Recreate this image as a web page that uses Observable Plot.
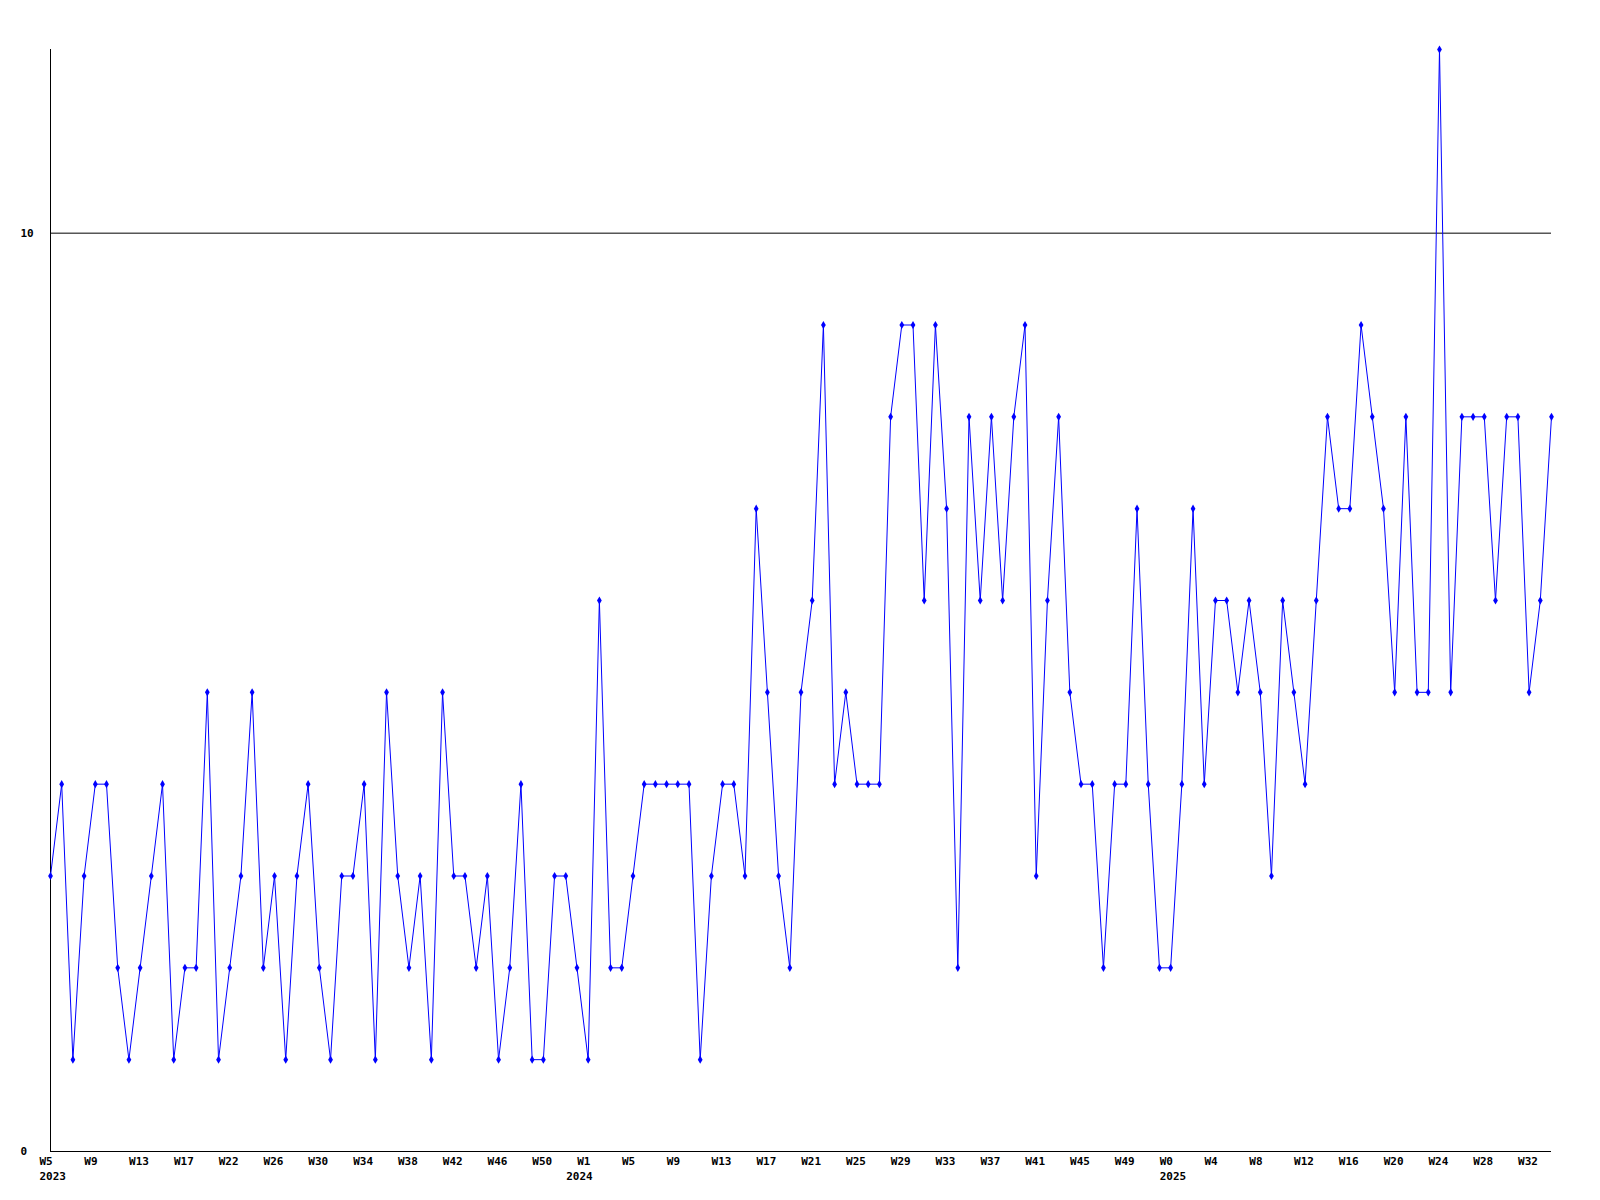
<!DOCTYPE html>
<html>
<head>
<meta charset="utf-8">
<script src="https://cdn.jsdelivr.net/npm/d3@7"></script>
<script src="https://cdn.jsdelivr.net/npm/@observablehq/plot@0.6"></script>
<style>
  html, body { margin: 0; padding: 0; background: #fff; }
</style>
</head>
<body>
<div id="chart"></div>
<script>
// Weekly values, one per week, in order (index 0 = 2023 W5)
const values = [
  3,4,1,3,4,4,2,1,2,3,
  4,1,2,2,5,1,2,3,5,2,
  3,1,3,4,2,1,3,3,4,1,
  5,3,2,3,1,5,3,3,2,3,
  1,2,4,1,1,3,3,2,1,6,
  2,2,3,4,4,4,4,4,1,3,
  4,4,3,7,5,3,2,5,6,9,
  4,5,4,4,4,8,9,9,6,9,
  7,2,8,6,8,6,8,9,3,6,
  8,5,4,4,2,4,4,7,4,2,
  2,4,7,4,6,6,5,6,5,3,
  6,5,4,6,8,7,7,9,8,7,
  5,8,5,5,12,5,8,8,8,6,
  8,8,5,6,8
];

// Week tick labels (every 4th point)
const weekTickIndex = [0,4,8,12,16,20,24,28,32,36,40,44,48,52,56,60,64,68,72,76,80,84,88,92,96,100,104,108,112,116,120,124,128,132];
const weekTickLabels = ["W5","W9","W13","W17","W22","W26","W30","W34","W38","W42","W46","W50",
  "W1","W5","W9","W13","W17","W21","W25","W29","W33","W37","W41","W45","W49",
  "W0","W4","W8","W12","W16","W20","W24","W28","W32"];

// Year labels
const yearTickIndex = [0,48,100];
const yearTickLabels = ["2023","2024","2025"];

// Y ticks
const yTicks = [0,10];

const data = values.map((v, i) => ({i, v}));
const weekMap = new Map(weekTickIndex.map((t, k) => [t, weekTickLabels[k]]));
const yearMap = new Map(yearTickIndex.map((t, k) => [t, yearTickLabels[k]]));
const yearTicksA = yearTickIndex.filter(t => t !== 48);
const yearTicksB = yearTickIndex.filter(t => t === 48);

const chart = Plot.plot({
  width: 1600,
  height: 1200,
  marginLeft: 50,
  marginRight: 49,
  marginTop: 49,
  marginBottom: 49,
  style: {fontFamily: "'DejaVu Sans Mono', monospace", fontSize: "11px", fontWeight: "bold", background: "#fff", color: "#000"},
  x: {domain: [0, values.length - 1]},
  y: {domain: [0, 12]},
  marks: [
    Plot.ruleY([10], {stroke: "#000", strokeWidth: 1}),
    Plot.ruleY([0], {stroke: "#000", strokeWidth: 1}),
    Plot.ruleX([0], {stroke: "#000", strokeWidth: 1}),
    Plot.line(data, {x: "i", y: "v", stroke: "#0000ff", strokeWidth: 1}),
    Plot.dot(data, {x: "i", y: "v", symbol: "diamond", r: 2.5, fill: "#0000ff", stroke: "none"}),
    Plot.axisY({ticks: yTicks, tickSize: 0, tickPadding: 3, textAnchor: "start", dx: -27, label: null, fill: "#000", tickFormat: d => String(d)}),
    Plot.axisX({ticks: weekTickIndex, tickSize: 0, tickPadding: 6, textAnchor: "start", dx: -11, label: null, fill: "#000", tickFormat: d => weekMap.get(d)}),
    Plot.axisX({ticks: yearTicksA, tickSize: 0, tickPadding: 6, textAnchor: "start", dx: -11, dy: 15, label: null, fill: "#000", tickFormat: d => yearMap.get(d)}),
    Plot.axisX({ticks: yearTicksB, tickSize: 0, tickPadding: 6, textAnchor: "start", dx: -22, dy: 15, label: null, fill: "#000", tickFormat: d => yearMap.get(d)})
  ]
});
document.getElementById("chart").appendChild(chart);
</script>
</body>
</html>
